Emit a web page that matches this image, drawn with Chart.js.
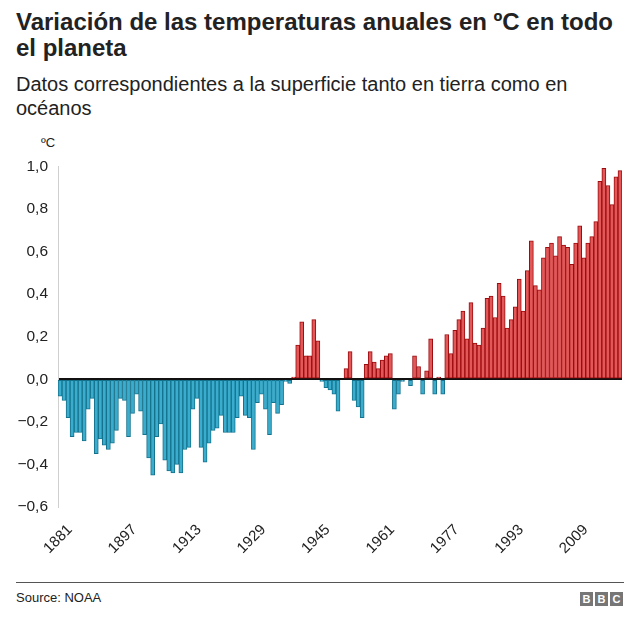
<!DOCTYPE html>
<html>
<head>
<meta charset="utf-8">
<script src="https://cdn.jsdelivr.net/npm/chart.js@4"></script>
<style>
  body { margin: 0; background: #fff; font-family: "Liberation Sans", Arial, sans-serif; color: #222; }
  #wrap { position: relative; width: 640px; height: 627px; overflow: hidden; }
  .title { position: absolute; left: 16px; top: 9px; width: 603px; font-size: 24px; font-weight: bold; line-height: 26px; color: #222; }
  .sub { position: absolute; left: 16px; top: 72px; width: 600px; font-size: 20px; line-height: 24px; color: #222; }
  .unit { position: absolute; left: 41px; top: 135px; font-size: 13px; color: #222; }
  #box { position: absolute; left: 0; top: 147px; width: 640px; height: 420px; }
  .rule { position: absolute; left: 16px; top: 582px; width: 608px; height: 1px; background: #555; }
  .source { position: absolute; left: 16px; top: 590px; font-size: 13px; color: #222; }
  .bbc { position: absolute; left: 580px; top: 592px; display: flex; gap: 2px; }
  .bbc span { display: block; width: 13px; height: 14px; background: #767676; color: #fff; font-size: 11px; font-weight: bold; text-align: center; line-height: 14px; }
</style>
</head>
<body>
<div id="wrap">
  <div class="title">Variación de las temperaturas anuales en ºC en todo el planeta</div>
  <div class="sub">Datos correspondientes a la superficie tanto en tierra como en océanos</div>
  <div class="unit">ºC</div>
  <div id="box"><canvas id="chart"></canvas></div>
  <div class="rule"></div>
  <div class="source">Source: NOAA</div>
  <div class="bbc"><span>B</span><span>B</span><span>C</span></div>
</div>
<script>
var firstYear = 1881;
var lastYear = 2020;
var years = [];
for (var y = firstYear; y <= lastYear; y++) years.push(String(y));

// anomalías anuales (ºC), 1881-2020
var anomalies = [
  -0.08, -0.10, -0.18, -0.27, -0.25, -0.25, -0.29, -0.14, -0.09, -0.35,
  -0.28, -0.31, -0.33, -0.30, -0.24, -0.09, -0.10, -0.27, -0.16, -0.07,
  -0.15, -0.26, -0.37, -0.45, -0.27, -0.21, -0.38, -0.43, -0.44, -0.40,
  -0.44, -0.33, -0.32, -0.14, -0.09, -0.32, -0.39, -0.30, -0.24, -0.23,
  -0.17, -0.25, -0.25, -0.25, -0.18, -0.08, -0.17, -0.18, -0.33, -0.11,
  -0.07, -0.14, -0.26, -0.11, -0.16, -0.12, -0.01, -0.02, 0.01, 0.16,
  0.27, 0.11, 0.11, 0.28, 0.18, -0.01, -0.04, -0.05, -0.07, -0.15,
  0.00, 0.05, 0.13, -0.10, -0.13, -0.18, 0.07, 0.13, 0.08, 0.05,
  0.09, 0.11, 0.12, -0.14, -0.07, -0.01, 0.00, -0.03, 0.11, 0.06,
  -0.07, 0.04, 0.19, -0.07, 0.01, -0.07, 0.21, 0.12, 0.23, 0.28,
  0.32, 0.19, 0.36, 0.17, 0.16, 0.24, 0.38, 0.39, 0.29, 0.45,
  0.39, 0.24, 0.28, 0.34, 0.47, 0.32, 0.51, 0.65, 0.44, 0.42,
  0.57, 0.62, 0.64, 0.58, 0.67, 0.63, 0.62, 0.54, 0.64, 0.72,
  0.57, 0.64, 0.67, 0.74, 0.93, 0.99, 0.91, 0.82, 0.95, 0.98
];
var yTicks = [-0.6, -0.4, -0.2, 0, 0.2, 0.4, 0.6, 0.8, 1.0];
var labelEvery = 16;

function fmt(v) {
  var s = Math.abs(v).toFixed(1).replace('.', ',');
  return v < -0.001 ? '\u2212' + s : s;
}

var ctx = document.getElementById('chart').getContext('2d');
new Chart(ctx, {
  type: 'bar',
  data: {
    labels: years,
    datasets: [{
      data: anomalies,
      backgroundColor: function (c) { return c.raw < 0 ? '#3aaccd' : '#e25858'; },
      borderColor: function (c) { return c.raw < 0 ? '#15728c' : '#9b0a0e'; },
      borderWidth: 1,
      borderSkipped: false,
      barPercentage: 1,
      categoryPercentage: 1
    }]
  },
  options: {
    responsive: true,
    maintainAspectRatio: false,
    animation: false,
    layout: { padding: { left: 0, right: 18, top: 11, bottom: 0 } },
    plugins: { legend: { display: false }, tooltip: { enabled: false } },
    scales: {
      x: {
        grid: { display: false },
        border: { display: false },
        ticks: {
          autoSkip: false,
          maxRotation: 45,
          minRotation: 45,
          padding: 6,
          labelOffset: 10,
          color: '#222',
          font: { family: 'Liberation Sans', size: 15 },
          callback: function (val, i) { return i % labelEvery === 0 ? years[i] : ''; }
        },
        afterFit: function (s) { s.height = 60; }
      },
      y: {
        min: -0.6,
        max: 1.0,
        afterBuildTicks: function (s) { s.ticks = yTicks.map(function (v) { return { value: v }; }); },
        grid: {
          drawTicks: false,
          color: function (c) { return c.tick && Math.abs(c.tick.value) < 1e-9 ? '#111' : 'rgba(0,0,0,0)'; },
          lineWidth: 2
        },
        border: { display: true, color: '#cfcfcf', width: 1 },
        ticks: {
          padding: 10,
          color: '#222',
          font: { family: 'Liberation Sans', size: 15.5 },
          callback: function (v) { return fmt(v); }
        },
        afterFit: function (s) { s.width = 58; }
      }
    }
  }
});
</script>
</body>
</html>
